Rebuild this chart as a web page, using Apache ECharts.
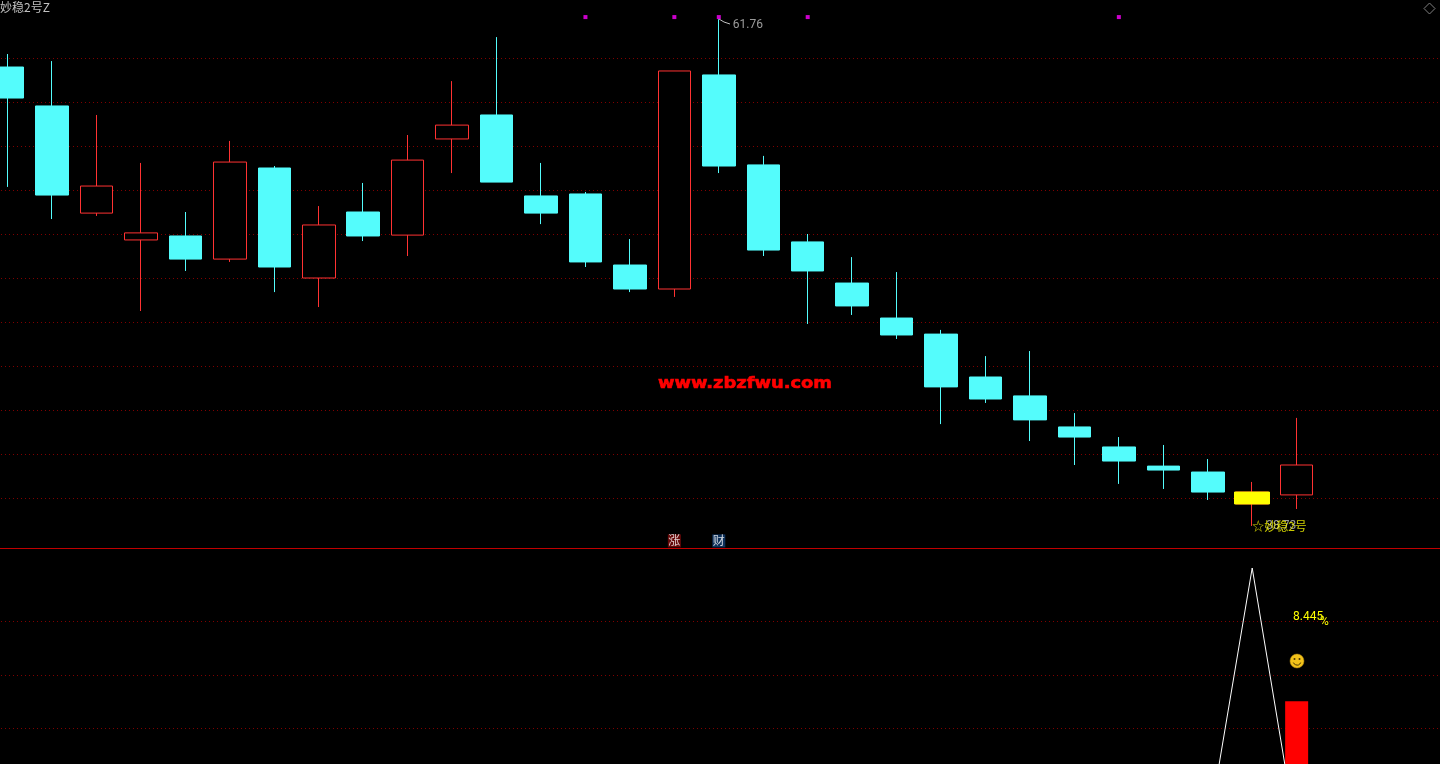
<!DOCTYPE html>
<html>
<head>
<meta charset="utf-8">
<title>妙稳2号Z</title>
<script src="https://cdn.jsdelivr.net/npm/echarts@6/dist/echarts.min.js"></script>
<style>
  html, body { margin: 0; padding: 0; background: #000; overflow: hidden; }
  #chart { width: 1440px; height: 764px; }
</style>
</head>
<body>
<div id="chart"></div>
<script>
// bar numbers, the last three are empty room on the right
const bars = ['1','2','3','4','5','6','7','8','9','10','11','12','13','14','15','16','17','18','19','20','21','22','23','24','25','26','27','28','29','30','31','32','33']

const opens  = [59.59,57.82,52.95,51.73,51.91,50.86,55.00,50.00,53.00,51.95,56.32,57.41,53.73,53.82,50.59,49.50,59.23,55.14,51.64,49.77,48.18,47.45,45.50,44.64,43.23,42.32,41.45,41.18,39.73,40.14]
const closes = [58.18,53.77,54.18,52.05,50.86,55.27,50.50,52.41,51.91,55.36,56.95,54.36,52.95,50.73,49.50,59.41,55.09,51.27,50.32,48.73,47.41,45.05,44.50,43.55,42.77,41.68,41.27,40.27,40.27,41.50]
const lows   = [54.14,52.68,52.82,48.50,50.32,50.73,49.36,48.68,51.68,51.00,54.77,54.36,52.45,50.50,49.36,49.14,54.77,51.00,47.91,48.32,47.23,43.36,44.32,42.59,41.50,40.64,40.41,39.91,38.73,39.50]
const highs  = [60.18,59.86,57.41,55.23,53.00,56.23,55.09,53.27,54.32,56.50,58.95,60.95,55.23,53.91,51.77,59.41,61.76,55.55,52.00,50.95,50.27,47.64,46.45,46.68,43.86,42.77,42.41,41.77,40.73,43.64]

// the highlighted candle, drawn over its normal one
const highlightBar = 28
const highlightOpen = 40.27
const highlightClose = 39.73

const signalBars = [13, 15, 16, 18, 25]
const signalLevel = 61.86

const badgeBars = [15, 16]
const badgeTexts = ['涨', '财']
const badgeColors = ['#7d0a0a', '#103c70']
const badgeLevel = 38.05

const highBar = 16
const highValue = 61.76
const lowBar = 28
const lowValue = 38.73
const signalName = '☆妙稳2号'

// lower pane
const spikeBars = [27, 28, 29]
const spikeValues = [-0.93, 4, -1]
const volumeBar = 29
const volumeValue = 1.51
const percentText = '8.445'

const gridLeft = -14.625
const gridWidth = 1466.85
// dashOffset puts the dots back on whole pixels, the grid starts on a fraction
const gridStyle = { show: true, showMinLine: false, showMaxLine: false, lineStyle: { color: '#800000', width: 1, type: [1, 3], dashOffset: 0.375 } }
const numFont = 'Roboto, sans-serif'
const cjkFont = '"Noto Sans CJK SC", sans-serif'

const candleData = opens.map((o, i) => [o, closes[i], lows[i], highs[i]])

const chart = echarts.init(document.getElementById('chart'))

chart.setOption({
  backgroundColor: '#000',
  animation: false,
  grid: [
    { left: gridLeft, width: gridWidth, top: 14, height: 528, outerBoundsMode: 'none' },
    { left: gridLeft, width: gridWidth, top: 568, height: 321, outerBoundsMode: 'none' }
  ],
  xAxis: [
    { type: 'category', gridIndex: 0, data: bars, show: false },
    { type: 'category', gridIndex: 1, data: bars, show: false }
  ],
  yAxis: [
    {
      type: 'value', gridIndex: 0, min: 38, max: 62, interval: 2,
      axisLine: { show: false }, axisTick: { show: false }, axisLabel: { show: false },
      splitLine: gridStyle
    },
    {
      type: 'value', gridIndex: 1, min: -2, max: 4, interval: 1,
      axisLine: { show: false }, axisTick: { show: false }, axisLabel: { show: false },
      splitLine: gridStyle
    }
  ],
  series: [
    {
      type: 'candlestick',
      data: candleData,
      barWidth: 33,
      clip: false,
      itemStyle: {
        color: '#000',
        color0: '#54fcfc',
        borderColor: '#ff3232',
        borderColor0: '#54fcfc',
        borderWidth: 1
      }
    },
    {
      type: 'candlestick',
      data: bars.map((b, i) => i === highlightBar ? [highlightOpen, highlightClose, highlightClose, highlightOpen] : ['-', '-', '-', '-']),
      barWidth: 35,
      z: 3,
      itemStyle: { color: '#ffff00', color0: '#ffff00', borderColor: '#ffff00', borderColor0: '#ffff00' }
    },
    {
      type: 'scatter',
      data: signalBars.map((b) => [b, signalLevel]),
      symbol: 'rect',
      symbolSize: 4,
      itemStyle: { color: '#ff00ff' }
    },
    {
      type: 'scatter',
      data: [[highBar, highValue]],
      symbolSize: 0,
      label: {
        show: true,
        position: 'right',
        offset: [9, 6],
        formatter: String(highValue),
        color: '#c0c0c0',
        fontSize: 12,
        fontFamily: numFont
      }
    },
    {
      type: 'scatter',
      data: [[lowBar, lowValue]],
      symbolSize: 0,
      z: 3,
      label: {
        show: true,
        position: 'right',
        offset: [9, 0],
        formatter: String(lowValue),
        color: '#c0c0c0',
        fontSize: 12,
        fontFamily: numFont
      }
    },
    {
      type: 'scatter',
      data: [[lowBar, lowValue]],
      symbolSize: 0,
      z: 4,
      label: {
        show: true,
        position: 'right',
        offset: [-5, 0],
        formatter: signalName,
        color: '#ffff00',
        fontSize: 12,
        fontFamily: cjkFont
      }
    },
    {
      type: 'scatter',
      data: badgeBars.map((b, i) => ({
        value: [b, badgeLevel],
        itemStyle: { color: badgeColors[i] },
        label: { formatter: badgeTexts[i] }
      })),
      symbol: 'rect',
      symbolSize: 13,
      clip: false,
      label: {
        show: true,
        position: 'inside',
        color: '#fff',
        fontSize: 12,
        fontFamily: cjkFont
      }
    },
    {
      type: 'bar',
      xAxisIndex: 1,
      yAxisIndex: 1,
      data: bars.map((b, i) => i === volumeBar ? volumeValue : '-'),
      barWidth: 23,
      itemStyle: { color: '#ff0000' }
    },
    {
      type: 'line',
      xAxisIndex: 1,
      yAxisIndex: 1,
      data: spikeBars.map((b, i) => [b, spikeValues[i]]),
      showSymbol: false,
      z: 3,
      lineStyle: { color: '#ffffff', width: 1 }
    }
  ],
  graphic: [
    { type: 'text', x: 0, y: 1, style: { text: '妙稳2号Z', fill: '#c0c0c0', font: '12px ' + cjkFont } },
    { type: 'polygon', shape: { points: [[1429.5, 3], [1435, 8.5], [1429.5, 14], [1424, 8.5]] }, style: { fill: 'none', stroke: '#808080', lineWidth: 1 } },
    { type: 'polyline', shape: { points: [[719, 19], [724, 22], [730, 24]] }, style: { fill: 'none', stroke: '#c0c0c0', lineWidth: 1 } },
    { type: 'line', shape: { x1: 0, y1: 548.5, x2: 1440, y2: 548.5 }, style: { stroke: '#c00000', lineWidth: 1 } },
    {
      type: 'text', x: 658, y: 377, scaleX: 1.19, z: 10,
      style: { text: 'www.zbzfwu.com', fill: '#ff0000', stroke: '#ff0000', lineWidth: 0.6, font: 'bold 15px "DejaVu Sans", sans-serif' }
    },
    { type: 'text', x: 1293, y: 611, style: { text: percentText, fill: '#ffff00', font: '12px ' + numFont } },
    { type: 'text', x: 1320, y: 616, style: { text: '%', fill: '#ffff00', font: '12px ' + numFont } },
    { type: 'circle', shape: { cx: 1297, cy: 661, r: 7 }, style: { fill: '#f2c21a', stroke: '#b88a10', lineWidth: 0.5 } },
    { type: 'circle', shape: { cx: 1294.5, cy: 659, r: 1 }, style: { fill: '#4a3600' } },
    { type: 'circle', shape: { cx: 1299.5, cy: 659, r: 1 }, style: { fill: '#4a3600' } },
    { type: 'arc', shape: { cx: 1297, cy: 661, r: 4, startAngle: 0.4, endAngle: 2.74 }, style: { fill: 'none', stroke: '#4a3600', lineWidth: 1 } }
  ]
})
</script>
</body>
</html>
